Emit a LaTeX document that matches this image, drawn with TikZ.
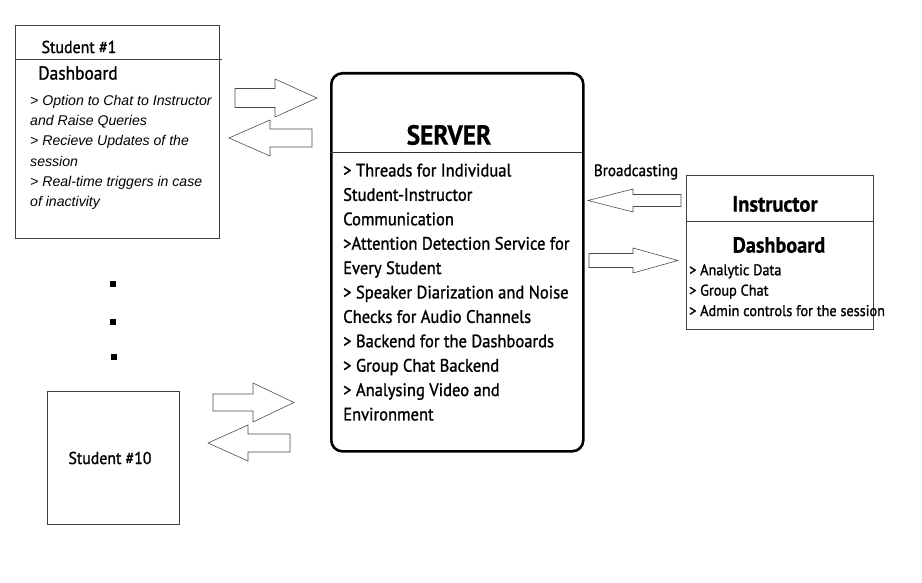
\documentclass[tikz,border=0pt]{standalone}
\usepackage{fontspec}
\setmainfont{Liberation Sans}
\newfontfamily\cond[FakeStretch=0.92,FakeBold=1.2,BoldFeatures={FakeBold=0.6}]{PT Sans}
\newcommand\blockarrow[6]{% tail x, headbase x, tip x, center y, shaft half, head half
  \draw[arrowline] (#1,#4-#5) -- (#2,#4-#5) -- (#2,#4-#6) -- (#3,#4) -- (#2,#4+#6) -- (#2,#4+#5) -- (#1,#4+#5) -- cycle;}
\begin{document}
\begin{tikzpicture}[x=1pt,y=-1pt,
  box/.style={draw=black!75,line width=0.8pt,anchor=north west,inner sep=0pt},
  arrowline/.style={draw=black!70,line width=0.6pt},
  itext/.style={font=\fontsize{14.1}{20.2}\selectfont\itshape,align=left,anchor=north west,inner sep=0pt},
  ctext/.style={font=\cond\fontsize{18}{24.4}\selectfont,align=left,anchor=north west,inner sep=0pt},
  dotsq/.style={fill=black,minimum size=5.5pt,inner sep=0pt}]
\useasboundingbox (0,0) rectangle (922,583);
% Student 1
\node[box,minimum width=204pt,minimum height=213pt] (s1) at (15,25) {};
\draw[draw=black!75,line width=0.8pt] (15,59) coordinate (s1l) -- (222,59) coordinate (s1r);
\node[font=\cond\fontsize{17.3}{18}\selectfont] (s1t) at (79,47) {Student \#1};
\node[font=\cond\fontsize{18.9}{20}\selectfont] (s1d) at (78,73) {Dashboard};
\node[itext] (s1x) at (30,95) {> Option to Chat to Instructor\\and Raise Queries\\> Recieve Updates of the\\session\\> Real-time triggers in case\\of inactivity};
% dots
\node[dotsq] (d1) at (113,284) {};
\node[dotsq] (d2) at (113,322) {};
\node[dotsq] (d3) at (114,357) {};
% Student 10
\node[box,minimum width=132pt,minimum height=133pt] (s10) at (47,391) {};
\node[font=\cond\fontsize{17.2}{18}\selectfont] (s10t) at (110,458) {Student \#10};
% Server
\node[box,draw=black,line width=2.6pt,rounded corners=11pt,minimum width=252pt,minimum height=378pt] (srv) at (330,72) {};
\draw[black!80,line width=0.8pt] (330,152) -- (582,152);
\node[font=\cond\bfseries\fontsize{27.6}{30}\selectfont] (srvt) at (449,135) {SERVER};
\node[ctext] (srvx) at (343,163.5) {> Threads for Individual\\Student-Instructor\\Communication\\>Attention Detection Service for\\Every Student\\> Speaker Diarization and Noise\\Checks for Audio Channels\\> Backend for the Dashboards\\> Group Chat Backend\\> Analysing Video and\\Environment};
% Instructor
\node[box,minimum width=187pt,minimum height=154pt] (ins) at (686,175) {};
\draw[black!75,line width=0.8pt] (686,221) -- (873,221);
\node[font=\cond\bfseries\fontsize{22.3}{24}\selectfont] (inst) at (775,204) {Instructor};
\node[font=\cond\bfseries\fontsize{22}{24}\selectfont] (insd) at (779,245) {Dashboard};
\node[font=\cond\fontsize{15.5}{20.4}\selectfont,align=left,anchor=north west,inner sep=0pt] (insx) at (689,264) {> Analytic Data\\> Group Chat\\> Admin controls for the session};
\node[font=\cond\fontsize{16.5}{18}\selectfont] (bc) at (636,172) {Broadcasting};
% block arrows
\blockarrow{235}{275}{317}{98}{9.5}{19}
\blockarrow{312}{270}{229}{138}{9}{18}
\blockarrow{213}{253}{294}{402.5}{8.5}{19.5}
\blockarrow{290}{248}{208}{443}{9}{18}
\blockarrow{681}{633}{588}{200.5}{6}{11.5}
\blockarrow{589}{633}{678}{260.5}{7}{12.5}
\end{tikzpicture}
\end{document}
